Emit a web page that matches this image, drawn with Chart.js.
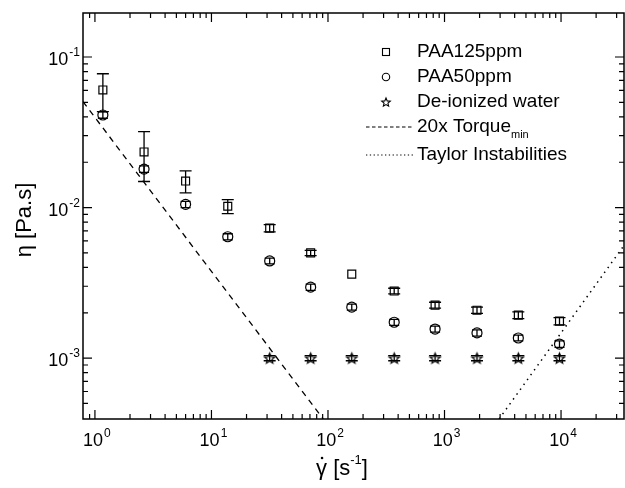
<!DOCTYPE html>
<html>
<head>
<meta charset="utf-8">
<script src="https://cdn.jsdelivr.net/npm/chart.js@4.4.1/dist/chart.umd.min.js"></script>
<style>
    body { margin: 0; background: #fff; }
    #wrap { width: 625px; height: 488px; position: relative; }
</style>
</head>
<body>
<div id="wrap"><canvas id="viscChart"></canvas></div>
<script>
// shear rates [1/s]
const shearRates = [1.17, 2.64, 6.0, 13.8, 31.6, 71, 160, 370, 830, 1900, 4300, 9700];
// PAA 125 ppm
const paa125 = [0.0604, 0.0234, 0.0150, 0.0102, 0.0073, 0.0050, 0.00361, 0.00279, 0.00225, 0.00208, 0.00193, 0.00176];
const paa125Err = [0.017, 0.0085, 0.0025, 0.0011, 0.0004, 0.0002, 0, 0.00012, 0.0001, 0.0001, 0.0001, 0.0001];
// PAA 50 ppm
const paa50 = [0.0412, 0.0180, 0.0105, 0.0064, 0.00442, 0.00296, 0.00218, 0.00173, 0.00156, 0.00147, 0.00136, 0.00124];
const paa50Err = [0.002, 0.0009, 0.0005, 0.0003, 0.0002, 0.00014, 0.0001, 0.00008, 0.00007, 0.00007, 0.00006, 0.00006];
// de-ionized water (from 31.6 1/s on)
const waterRates = [31.6, 71, 160, 370, 830, 1900, 4300, 9700];
const water = [0.001, 0.001, 0.001, 0.001, 0.001, 0.001, 0.001, 0.001];
const waterErr = [0.00004, 0.00004, 0.00004, 0.00004, 0.00004, 0.00004, 0.00004, 0.00004];
// limit lines (end points)
const torqueX = [0.79, 91];
const torqueY = [0.0505, 0.000394];
const taylorX = [2940, 34700];
const taylorY = [0.000394, 0.0056];

const xTickExp = [0, 1, 2, 3, 4];
const yTickExp = [-3, -2, -1];

const FONT = '"Liberation Sans", Arial, sans-serif';

function starPath(ctx, cx, cy, r) {
    ctx.beginPath();
    for (let i = 0; i < 10; i++) {
        const rr = i % 2 === 0 ? r : r * 0.45;
        const a = -Math.PI / 2 + i * Math.PI / 5;
        const px = cx + rr * Math.cos(a), py = cy + rr * Math.sin(a);
        if (i === 0) ctx.moveTo(px, py); else ctx.lineTo(px, py);
    }
    ctx.closePath();
}

function makeStar(r) {
    const c = document.createElement("canvas");
    const s = Math.ceil(r * 2 + 4);
    c.width = s; c.height = s;
    const g = c.getContext("2d");
    g.strokeStyle = "#000";
    g.lineWidth = 1.2;
    starPath(g, s / 2, s / 2 + 0.5, r);
    g.stroke();
    return c;
}
const starImg = makeStar(5.5);

function toPts(xs, ys) {
    return xs.map((x, i) => ({ x: x, y: ys[i] }));
}

function drawSup(ctx, base, sup, x, y, align, baseSize, supSize) {
    ctx.font = baseSize + "px " + FONT;
    const wb = ctx.measureText(base).width + 1;
    ctx.font = supSize + "px " + FONT;
    const ws = ctx.measureText(sup).width;
    let x0 = x;
    if (align === "center") x0 = x - (wb + ws) / 2;
    if (align === "right") x0 = x - (wb + ws);
    ctx.textAlign = "left";
    ctx.textBaseline = "middle";
    ctx.font = baseSize + "px " + FONT;
    ctx.fillText(base, x0, y);
    ctx.font = supSize + "px " + FONT;
    ctx.fillText(sup, x0 + wb, y - baseSize * 0.4);
}

// error bars under the symbols
const errorBars = {
    id: "errorBars",
    beforeDatasetsDraw(chart) {
        const { ctx, scales: { x, y } } = chart;
        const sets = [
            [shearRates, paa125, paa125Err, 6],
            [shearRates, paa50, paa50Err, 5],
            [waterRates, water, waterErr, 6]
        ];
        ctx.save();
        ctx.strokeStyle = "#000";
        ctx.lineWidth = 1.3;
        sets.forEach(([xs, ys, es, hw]) => {
            xs.forEach((xv, i) => {
                if (!es[i]) return;
                const px = x.getPixelForValue(xv);
                const top = y.getPixelForValue(ys[i] + es[i]);
                const bot = y.getPixelForValue(ys[i] - es[i]);
                ctx.beginPath();
                ctx.moveTo(px, top); ctx.lineTo(px, bot);
                ctx.moveTo(px - hw, top); ctx.lineTo(px + hw, top);
                ctx.moveTo(px - hw, bot); ctx.lineTo(px + hw, bot);
                ctx.stroke();
            });
        });
        ctx.restore();
    }
};

// frame, inward ticks, labels, titles, legend
const frame = {
    id: "frame",
    afterDraw(chart) {
        const { ctx, chartArea: a, scales: { x, y } } = chart;
        ctx.save();
        ctx.strokeStyle = "#000";
        ctx.fillStyle = "#000";
        ctx.lineWidth = 1.5;
        ctx.strokeRect(a.left, a.top, a.right - a.left, a.bottom - a.top);

        ctx.lineWidth = 1.2;
        ctx.beginPath();
        for (let e = -1; e <= 4; e++) {
            for (let m = 1; m <= 9; m++) {
                const v = m * Math.pow(10, e);
                const p = x.getPixelForValue(v);
                if (p < a.left + 1 || p > a.right - 1) continue;
                const len = m === 1 ? 9 : 5;
                ctx.moveTo(p, a.bottom); ctx.lineTo(p, a.bottom - len);
                ctx.moveTo(p, a.top); ctx.lineTo(p, a.top + len);
            }
        }
        for (let e = -4; e <= -1; e++) {
            for (let m = 1; m <= 9; m++) {
                const v = m * Math.pow(10, e);
                const p = y.getPixelForValue(v);
                if (p < a.top + 1 || p > a.bottom - 1) continue;
                const len = m === 1 ? 9 : 5;
                ctx.moveTo(a.left, p); ctx.lineTo(a.left + len, p);
                ctx.moveTo(a.right, p); ctx.lineTo(a.right - len, p);
            }
        }
        ctx.stroke();

        xTickExp.forEach(k => {
            const p = x.getPixelForValue(Math.pow(10, k));
            drawSup(ctx, "10", String(k), p + 2, a.bottom + 22, "center", 18, 12);
        });
        yTickExp.forEach(k => {
            const p = y.getPixelForValue(Math.pow(10, k));
            drawSup(ctx, "10", String(k), a.left - 3, p + 3, "right", 18, 12);
        });

        // y title
        ctx.save();
        ctx.translate(25, 220);
        ctx.rotate(-Math.PI / 2);
        ctx.font = "22px " + FONT;
        ctx.textAlign = "center";
        ctx.textBaseline = "middle";
        ctx.fillText("\u03b7 [Pa.s]", 0, 0);
        ctx.restore();

        // x title: gamma-dot [s^-1]
        ctx.font = "22px " + FONT;
        ctx.textAlign = "left";
        ctx.textBaseline = "middle";
        const g = "\u03b3";
        const rest = " [s";
        ctx.font = "22px " + FONT;
        const wg = ctx.measureText(g).width;
        const wr = ctx.measureText(rest).width;
        ctx.font = "13px " + FONT;
        const wsup = ctx.measureText("-1").width;
        ctx.font = "22px " + FONT;
        const wend = ctx.measureText("]").width;
        let tx = 342 - (wg + wr + wsup + wend) / 2;
        const ty = 469;
        ctx.fillText(g, tx, ty);
        ctx.beginPath();
        ctx.arc(tx + wg / 2 + 0.5, ty - 11, 1.3, 0, Math.PI * 2);
        ctx.fill();
        tx += wg;
        ctx.fillText(rest, tx, ty);
        tx += wr;
        ctx.font = "13px " + FONT;
        ctx.fillText("-1", tx, ty - 9);
        tx += wsup;
        ctx.font = "22px " + FONT;
        ctx.fillText("]", tx, ty);

        // legend
        const lx = 386, tx0 = 417;
        ctx.lineWidth = 1.1;
        ctx.strokeRect(lx - 3.5, 52 - 3.5, 7, 7);
        ctx.beginPath();
        ctx.arc(lx, 77, 3.7, 0, Math.PI * 2);
        ctx.stroke();
        starPath(ctx, lx, 102.5, 4.5);
        ctx.stroke();
        ctx.lineWidth = 1.1;
        ctx.setLineDash([3.5, 2.5]);
        ctx.beginPath();
        ctx.moveTo(366, 127); ctx.lineTo(413, 127);
        ctx.stroke();
        ctx.setLineDash([1.3, 2.5]);
        ctx.beginPath();
        ctx.moveTo(366, 155); ctx.lineTo(413, 155);
        ctx.stroke();
        ctx.setLineDash([]);

        ctx.font = "19px " + FONT;
        ctx.textAlign = "left";
        ctx.textBaseline = "middle";
        ctx.fillText("PAA125ppm", tx0, 52);
        ctx.fillText("PAA50ppm", tx0, 77);
        ctx.fillText("De-ionized water", tx0, 102);
        ctx.fillText("20x Torque", tx0, 127);
        const wt = ctx.measureText("20x Torque").width;
        ctx.font = "11px " + FONT;
        ctx.fillText("min", tx0 + wt, 135);
        ctx.font = "19px " + FONT;
        ctx.fillText("Taylor Instabilities", tx0, 155);
        ctx.restore();
    }
};

new Chart(document.getElementById("viscChart"), {
    type: "scatter",
    data: {
        datasets: [
            {
                label: "20x Torque min",
                data: toPts(torqueX, torqueY),
                showLine: true,
                borderColor: "#000",
                borderWidth: 1.3,
                borderDash: [6, 5],
                pointRadius: 0
            },
            {
                label: "Taylor Instabilities",
                data: toPts(taylorX, taylorY),
                showLine: true,
                borderColor: "#000",
                borderWidth: 1.5,
                borderDash: [1.5, 4.5],
                pointRadius: 0
            },
            {
                label: "PAA125ppm",
                data: toPts(shearRates, paa125),
                pointStyle: "rect",
                pointRadius: 5.6,
                borderColor: "#000",
                borderWidth: 1.2,
                backgroundColor: "rgba(0,0,0,0)"
            },
            {
                label: "PAA50ppm",
                data: toPts(shearRates, paa50),
                pointStyle: "circle",
                pointRadius: 5,
                borderColor: "#000",
                borderWidth: 1.2,
                backgroundColor: "rgba(0,0,0,0)"
            },
            {
                label: "De-ionized water",
                data: toPts(waterRates, water),
                pointStyle: starImg,
                borderColor: "#000"
            }
        ]
    },
    options: {
        responsive: true,
        maintainAspectRatio: false,
        animation: false,
        layout: { autoPadding: false, padding: { left: 83, top: 13, right: 1, bottom: 69 } },
        plugins: {
            legend: { display: false },
            tooltip: { enabled: false }
        },
        scales: {
            x: { type: "logarithmic", min: 0.79, max: 34700, display: false },
            y: { type: "logarithmic", min: 0.000394, max: 0.196, display: false }
        }
    },
    plugins: [errorBars, frame]
});
</script>
</body>
</html>
